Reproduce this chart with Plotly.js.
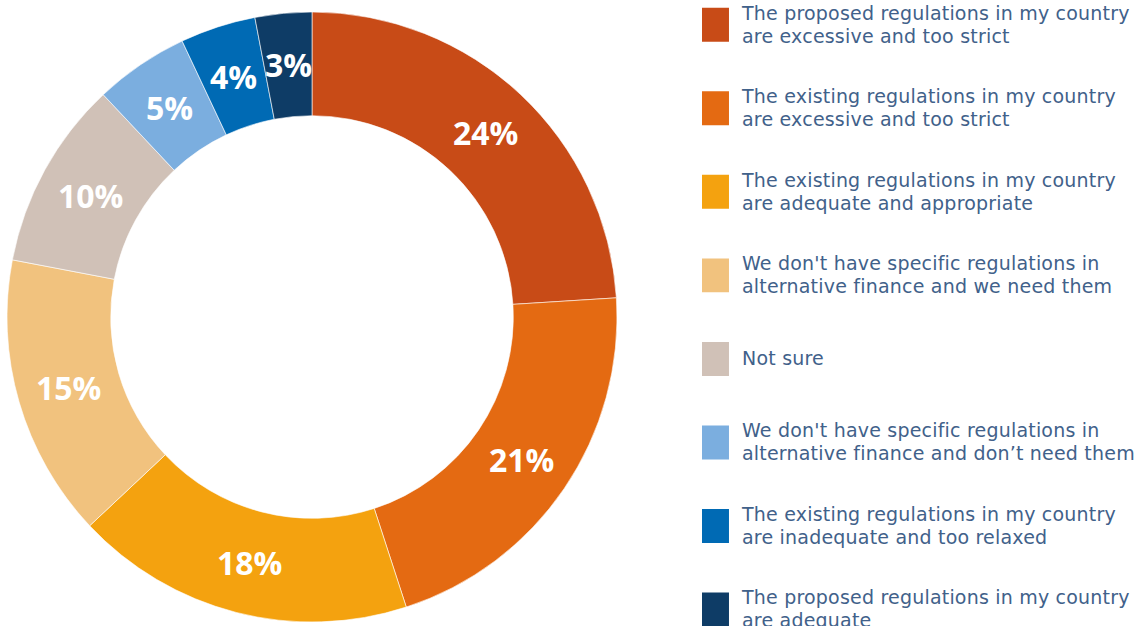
<!DOCTYPE html>
<html>
<head>
<meta charset="utf-8">
<script src="https://cdn.plot.ly/plotly-3.0.1.min.js"></script>
<style>
  html, body { margin: 0; padding: 0; background: #ffffff; overflow: hidden; }
  #chart { width: 1139px; height: 1400px; }
  .legendpie { transform: translate(10px, -3px) scale(2.83); stroke-width: 0 !important; }
  .legendtext { letter-spacing: 0.2px; }
</style>
</head>
<body>
<div id="chart"></div>
<script>
// Data
const labelLine1 = [
  "The proposed regulations in my country",
  "The existing regulations in my country",
  "The existing regulations in my country",
  "We don't have specific regulations in",
  "Not sure",
  "We don't have specific regulations in",
  "The existing regulations in my country",
  "The proposed regulations in my country"
];
const labelLine2 = [
  "are excessive and too strict",
  "are excessive and too strict",
  "are adequate and appropriate",
  "alternative finance and we need them",
  "",
  "alternative finance and don\u2019t need them",
  "are inadequate and too relaxed",
  "are adequate"
];
const shares = [24, 21, 18, 15, 10, 5, 4, 3];
const sliceColors = ["#C84B17", "#E46A12", "#F4A20F", "#F1C27E", "#D0C1B7", "#7BAEDF", "#006AB4", "#0E3C66"];

// Canvas is taller than the 626px window; only the top part is visible (as in the reference)
const W = 1139, H = 1400;
const HOLE = 0.66;
const domX = [7 / W, 617 / W];
const domY = [(H - 622) / H, (H - 12) / H];

const big = t => '<span style="font-size:19px">' + t + '</span>';
const legendLabels = labelLine1.map((l1, i) =>
  labelLine2[i]
    ? '<br><br>' + big(l1) + '<br><br>' + big(labelLine2[i]) + '<br><br>'
    : '<br><br><br>' + big(l1) + '<br><br><br>'
);

const trace = {
  type: 'pie',
  labels: legendLabels,
  values: shares,
  sort: false,
  direction: 'clockwise',
  rotation: 0,
  hole: HOLE,
  marker: { colors: sliceColors, line: { color: '#ffffff', width: 0.6 } },
  textinfo: 'none',
  hoverinfo: 'none',
  domain: { x: domX, y: domY }
};

// Percentage labels at the middle of the ring, derived from the slice values
const total = shares.reduce((a, b) => a + b, 0);
const cxPx = (domX[0] + domX[1]) / 2 * W;
const cyPx = (1 - (domY[0] + domY[1]) / 2) * H;
const rOuter = Math.min((domX[1] - domX[0]) * W, (domY[1] - domY[0]) * H) / 2;
const rMid = rOuter * (1 + HOLE) / 2;
let cum = 0;
const annotations = shares.map(v => {
  const a = 2 * Math.PI * (cum + v / 2) / total;
  cum += v;
  const px = cxPx + rMid * Math.sin(a);
  const py = cyPx - rMid * Math.cos(a);
  return {
    x: px / W, y: 1 - py / H, xref: 'paper', yref: 'paper',
    text: Math.round(100 * v / total) + '%',
    showarrow: false, xanchor: 'center', yanchor: 'middle',
    font: { family: 'Open Sans, sans-serif', size: 32, color: '#ffffff', weight: 700 }
  };
});

const layout = {
  width: W,
  height: H,
  margin: { l: 0, r: 0, t: 0, b: 0, autoexpand: false },
  paper_bgcolor: '#ffffff',
  plot_bgcolor: '#ffffff',
  showlegend: true,
  annotations: annotations,
  legend: {
    x: 702 / W, xanchor: 'left',
    y: 1 + 19 / H, yanchor: 'top',
    bgcolor: 'rgba(0,0,0,0)',
    font: { family: 'DejaVu Sans, sans-serif', size: 8.85, color: '#41618A' },
    traceorder: 'normal'
  }
};

Plotly.newPlot('chart', [trace], layout, { displayModeBar: false, staticPlot: true });
</script>
</body>
</html>
